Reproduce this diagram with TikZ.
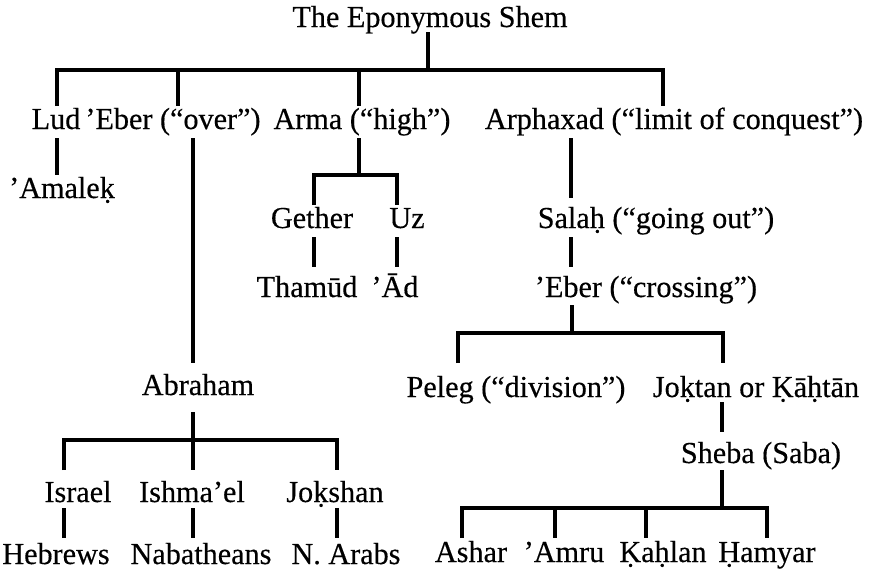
\documentclass[tikz,border=0pt]{standalone}
\usepackage{fontspec}
\setmainfont{Liberation Serif}[FakeStretch=0.99,FakeBold=0.35]
\tikzset{
  lbl/.style={anchor=base, inner sep=0pt, font=\fontsize{30.5}{34}\selectfont},
  link/.style={line width=3.1pt, line cap=butt, line join=miter}
}
\begin{document}
\begin{tikzpicture}[x=1pt,y=-1pt]
\useasboundingbox (0,0) rectangle (869,576);
% text nodes
\node[lbl] (shem) at (430,27) {The Eponymous Shem};
\node[lbl] (lud) at (56,129) {Lud};
\node[lbl] (eberA) at (173,129) {’Eber (“over”)};
\node[lbl] (arma) at (362,129) {Arma (“high”)};
\node[lbl] (arph) at (674,129) {Arphaxad (“limit of conquest”)};
\node[lbl] (amalek) at (62,198) {’Amaleḳ};
\node[lbl] (gether) at (312,228) {Gether};
\node[lbl] (uz) at (407,228) {Uz};
\node[lbl] (salah) at (656,228) {Salaḥ (“going out”)};
\node[lbl] (thamud) at (307,297) {Thamūd};
\node[lbl] (ad) at (395,297) {’Ād};
\node[lbl] (eberB) at (646,297) {’Eber (“crossing”)};
\node[lbl] (abraham) at (198,395) {Abraham};
\node[lbl] (peleg) at (516,397) {Peleg (“division”)};
\node[lbl] (joktan) at (756,397) {Joḳtan or Ḳāḥtān};
\node[lbl] (sheba) at (761,463) {Sheba (Saba)};
\node[lbl] (israel) at (78,502) {Israel};
\node[lbl] (ishmael) at (192,502) {Ishma’el};
\node[lbl] (jokshan) at (335,502) {Joḳshan};
\node[lbl] (hebrews) at (56,564) {Hebrews};
\node[lbl] (nabat) at (201,564) {Nabatheans};
\node[lbl] (narabs) at (346,564) {N. Arabs};
\node[lbl] (ashar) at (471,562) {Ashar};
\node[lbl] (amru) at (564,562) {’Amru};
\node[lbl] (kahlan) at (663,562) {Ḳaḥlan};
\node[lbl] (hamyar) at (767,562) {Ḥamyar};
% connector end points
\coordinate (shemD) at (428,32);
\coordinate (shemJ) at (428,70);
\coordinate (ludU) at (57,106);   \coordinate (ludC) at (57,70);
\coordinate (eberAU) at (178,106); \coordinate (eberAC) at (178,70);
\coordinate (armaU) at (359,106);  \coordinate (armaC) at (359,70);
\coordinate (arphU) at (663,106);  \coordinate (arphC) at (663,70);
\coordinate (ludD) at (57,138);    \coordinate (amalekU) at (57,175);
\coordinate (eberAD) at (193,138); \coordinate (abrahamU) at (193,363);
\coordinate (armaD) at (359,138);  \coordinate (armaJ) at (359,175);
\coordinate (getherU) at (314,205); \coordinate (getherC) at (314,175);
\coordinate (uzU) at (397,205);    \coordinate (uzC) at (397,175);
\coordinate (getherD) at (314,237); \coordinate (thamudU) at (314,267);
\coordinate (uzD) at (397,237);    \coordinate (adU) at (397,267);
\coordinate (arphD) at (571,138);  \coordinate (salahU) at (571,198);
\coordinate (salahD) at (571,237); \coordinate (eberBU) at (571,267);
\coordinate (eberBD) at (572,305); \coordinate (eberBJ) at (572,333);
\coordinate (pelegU) at (458,363); \coordinate (pelegC) at (458,333);
\coordinate (joktanU) at (723,363); \coordinate (joktanC) at (723,333);
\coordinate (joktanD) at (722,402); \coordinate (shebaU) at (722,432);
\coordinate (shebaD) at (722,470); \coordinate (shebaJ) at (722,508);
\coordinate (asharU) at (462,538); \coordinate (asharC) at (462,508);
\coordinate (amruU) at (555,538);  \coordinate (amruC) at (555,508);
\coordinate (kahlanU) at (646,538); \coordinate (kahlanC) at (646,508);
\coordinate (hamyarU) at (767,538); \coordinate (hamyarC) at (767,508);
\coordinate (abrahamD) at (193,412); \coordinate (abrahamJ) at (193,440);
\coordinate (israelU) at (64,470);  \coordinate (israelC) at (64,440);
\coordinate (ishmaelU) at (193,470);
\coordinate (jokshanU) at (337,470); \coordinate (jokshanC) at (337,440);
\coordinate (israelD) at (64,508);  \coordinate (hebrewsU) at (64,538);
\coordinate (ishmaelD) at (193,508); \coordinate (nabatU) at (193,538);
\coordinate (jokshanD) at (337,508); \coordinate (narabsU) at (337,538);
% connectors
\draw[link] (shemD) -- (shemJ);
\draw[link] (ludU) -- (ludC) -- (arphC) -- (arphU);
\draw[link] (eberAC) -- (eberAU);
\draw[link] (armaC) -- (armaU);
\draw[link] (ludD) -- (amalekU);
\draw[link] (eberAD) -- (abrahamU);
\draw[link] (armaD) -- (armaJ);
\draw[link] (getherU) -- (getherC) -- (uzC) -- (uzU);
\draw[link] (getherD) -- (thamudU);
\draw[link] (uzD) -- (adU);
\draw[link] (arphD) -- (salahU);
\draw[link] (salahD) -- (eberBU);
\draw[link] (eberBD) -- (eberBJ);
\draw[link] (pelegU) -- (pelegC) -- (joktanC) -- (joktanU);
\draw[link] (joktanD) -- (shebaU);
\draw[link] (shebaD) -- (shebaJ);
\draw[link] (asharU) -- (asharC) -- (hamyarC) -- (hamyarU);
\draw[link] (amruC) -- (amruU);
\draw[link] (kahlanC) -- (kahlanU);
\draw[link] (abrahamD) -- (ishmaelU);
\draw[link] (israelU) -- (israelC) -- (jokshanC) -- (jokshanU);
\draw[link] (israelD) -- (hebrewsU);
\draw[link] (ishmaelD) -- (nabatU);
\draw[link] (jokshanD) -- (narabsU);
\end{tikzpicture}
\end{document}
